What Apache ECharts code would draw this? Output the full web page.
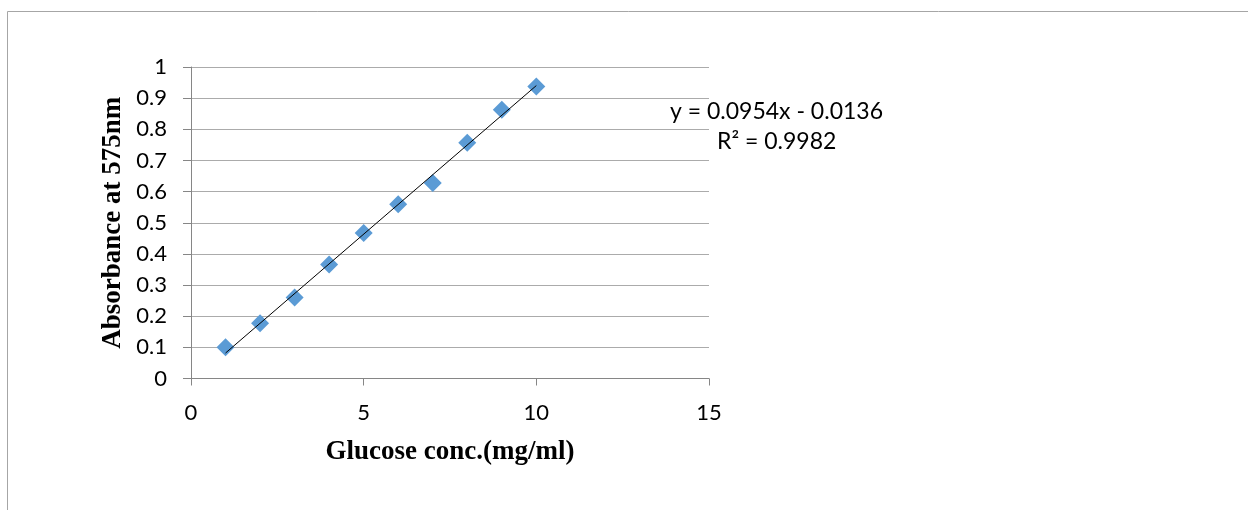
<!DOCTYPE html>
<html>
<head>
<meta charset="utf-8">
<script src="https://cdn.jsdelivr.net/npm/echarts@6/dist/echarts.min.js"></script>
<style>
	html, body {margin: 0; padding: 0; background: #fff;}
	#chart {width: 1248px; height: 510px;}
</style>
</head>
<body>
<div id="chart"></div>
<script>
	// glucose standard curve
	const concX = [1, 2, 3, 4, 5, 6, 7, 8, 9, 10];
	const absorbance = [0.100, 0.177, 0.260, 0.366, 0.467, 0.559, 0.628, 0.757, 0.863, 0.937];
	const trendX = [1, 10];
	const slope = 0.0954, intercept = -0.0136;
	const eqText = 'y = 0.0954x - 0.0136';
	const r2Text = 'R² = 0.9982';

	const trendData = trendX.map(x => [x, slope * x + intercept]);
	const points = concX.map((x, i) => [x, absorbance[i]]);

	const chart = echarts.init(document.getElementById('chart'));

	const tickFont = {color: '#000', fontSize: 22, fontFamily: 'Lato, "Open Sans", sans-serif'};
	const eqFont = {fill: '#000', fontSize: 23, fontFamily: 'Lato, "Open Sans", sans-serif'};
	const titleFont = {color: '#000', fontSize: 27, fontWeight: 'bold', fontFamily: '"Liberation Serif", "DejaVu Serif", serif'};

	const option = {
		animation: false,
		grid: {left: 191, top: 67, right: 539, bottom: 131.5},
		graphic: [
			{type: 'rect', shape: {x: 7.5, y: 11.5, width: 1300, height: 600}, style: {fill: 'none', stroke: '#a6a6a6', lineWidth: 1}, silent: true},
			{type: 'text', left: 670, top: 100, style: Object.assign({text: eqText}, eqFont)},
			{type: 'text', left: 717, top: 130, style: Object.assign({text: r2Text}, eqFont)}
		],
		xAxis: {
			type: 'value',
			min: 0, max: 15, interval: 5,
			name: 'Glucose conc.(mg/ml)',
			nameLocation: 'middle',
			nameGap: 60,
			nameTextStyle: titleFont,
			axisLine: {show: true, lineStyle: {color: '#868686', width: 1}},
			axisTick: {show: true, length: 7, lineStyle: {color: '#868686'}},
			axisLabel: Object.assign({margin: 23}, tickFont),
			splitLine: {show: false}
		},
		yAxis: {
			type: 'value',
			min: 0, max: 1, interval: 0.1,
			name: 'Absorbance at 575nm',
			nameLocation: 'middle',
			nameGap: 64,
			nameTextStyle: titleFont,
			axisLine: {show: true, onZero: false, lineStyle: {color: '#868686', width: 1}},
			axisTick: {show: true, length: 8, lineStyle: {color: '#868686'}},
			axisLabel: Object.assign({margin: 24, formatter: v => String(Math.round(v * 10) / 10)}, tickFont),
			splitLine: {show: true, lineStyle: {color: '#ababab', width: 1}}
		},
		series: [
			{
				name: 'trend',
				type: 'line',
				data: trendData,
				symbol: 'none',
				lineStyle: {color: '#000', width: 1},
				z: 3
			},
			{
				name: 'absorbance',
				type: 'scatter',
				data: points,
				symbol: 'diamond',
				symbolSize: [18, 18],
				itemStyle: {color: '#5b9bd5', opacity: 1},
				z: 2
			}
		]
	};
	chart.setOption(option);
</script>
</body>
</html>
